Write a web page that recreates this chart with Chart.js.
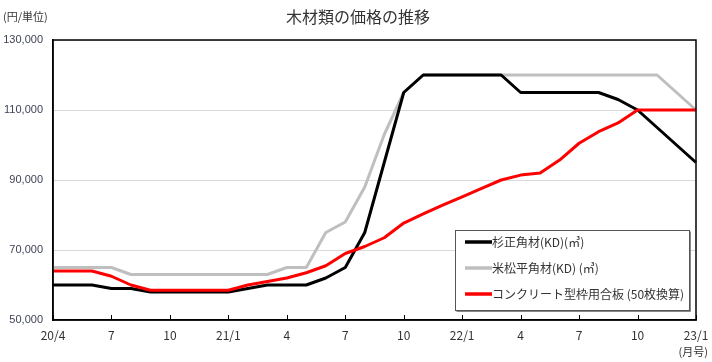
<!DOCTYPE html>
<html><head><meta charset="utf-8">
<script src="https://cdn.jsdelivr.net/npm/chart.js@4/dist/chart.umd.min.js"></script>
<style>html,body{margin:0;padding:0;background:#fff}#wrap{width:712px;height:362px}</style>
</head><body><div id="wrap"><canvas id="c" width="712" height="362"></canvas></div>
<script>
const categories = ["20/4","20/5","20/6","20/7","20/8","20/9","20/10","20/11","20/12","21/1","21/2","21/3","21/4","21/5","21/6","21/7","21/8","21/9","21/10","21/11","21/12","22/1","22/2","22/3","22/4","22/5","22/6","22/7","22/8","22/9","22/10","22/11","22/12","23/1"];
const tickLabels = ["20/4","7","10","21/1","4","7","10","22/1","4","7","10","23/1"];
const seriesNames = ["杉正角材(KD)(㎥)","米松平角材(KD) (㎥)","コンクリート型枠用合板 (50枚換算)"];
const sugi = [60000,60000,60000,59000,59000,58000,58000,58000,58000,58000,59000,60000,60000,60000,62000,65000,75000,95000,115000,120000,120000,120000,120000,120000,115000,115000,115000,115000,115000,113000,110000,105000,100000,95000];
const beimatsu = [65000,65000,65000,65000,63000,63000,63000,63000,63000,63000,63000,63000,65000,65000,75000,78000,88000,103000,115000,120000,120000,120000,120000,120000,120000,120000,120000,120000,120000,120000,120000,120000,115000,110000];
const goban = [64000,64000,64000,62500,60000,58500,58500,58500,58500,58500,60000,61000,62000,63500,65500,69000,71000,73500,77700,80300,82800,85200,87600,90000,91400,92000,95700,100500,103800,106300,110000,110000,110000,110000];
const yTicks = [50000,70000,90000,110000,130000];

const jp = '"Noto Sans CJK JP","Liberation Sans",sans-serif';

const decor = {
  id:'decor',
  afterDraw(chart){
    const ctx = chart.ctx, a = chart.chartArea;
    ctx.save();
    ctx.strokeStyle='#000'; ctx.lineWidth=1.5;
    ctx.strokeRect(a.left, a.top, a.right-a.left, a.bottom-a.top);
    const xs = chart.scales.x;
    ctx.lineWidth=1;
    for(let i=0;i<categories.length;i+=3){
      const px = Math.round(xs.getPixelForValue(i))+0.5;
      ctx.beginPath(); ctx.moveTo(px,a.bottom); ctx.lineTo(px,a.bottom-5); ctx.stroke();
    }
    ctx.fillStyle='#333';
    ctx.font='16px '+jp; ctx.textAlign='center'; ctx.textBaseline='middle';
    ctx.fillText('木材類の価格の推移', 358, 17);
    ctx.font='11px '+jp; ctx.textAlign='left';
    ctx.fillText('(円/単位)', 3, 17);
    ctx.textAlign='right';
    ctx.fillText('(月号)', 708, 352);
    const lx=455, ly=230, lw=234, lh=80;
    ctx.fillStyle='#fff'; ctx.fillRect(lx,ly,lw,lh);
    ctx.strokeStyle='#555'; ctx.lineWidth=1;
    ctx.strokeRect(lx+0.5,ly+0.5,lw,lh);
    ctx.strokeStyle='#888'; ctx.lineWidth=1;
    ctx.beginPath(); ctx.moveTo(lx+1.5,ly+lh+1.5); ctx.lineTo(lx+lw+1.5,ly+lh+1.5); ctx.lineTo(lx+lw+1.5,ly+1.5); ctx.stroke();
    const rows=[242,268,294];
    const cols=['#000','#bfbfbf','#ff0000'];
    ctx.font='12px '+jp; ctx.textAlign='left'; ctx.textBaseline='middle';
    for(let i=0;i<3;i++){
      ctx.strokeStyle=cols[i]; ctx.lineWidth=3.5;
      ctx.beginPath(); ctx.moveTo(465,rows[i]); ctx.lineTo(492,rows[i]); ctx.stroke();
      ctx.fillStyle='#333'; ctx.fillText(seriesNames[i], 492, rows[i]);
    }
    ctx.restore();
  }
};

new Chart(document.getElementById('c'), {
  type:'line',
  data:{
    labels:categories,
    datasets:[
      {label:seriesNames[0], data:sugi, borderColor:'#000', borderWidth:3, order:1},
      {label:seriesNames[1], data:beimatsu, borderColor:'#bfbfbf', borderWidth:3, order:2},
      {label:seriesNames[2], data:goban, borderColor:'#ff0000', borderWidth:3, order:0}
    ]
  },
  options:{
    responsive:false, animation:false,
    layout:{padding:{top:40,right:0,left:0,bottom:0}},
    elements:{point:{radius:0}, line:{tension:0, borderJoinStyle:'round'}},
    plugins:{legend:{display:false}, title:{display:false}, tooltip:{enabled:false}},
    scales:{
      x:{
        offset:false,
        grid:{display:false, drawTicks:false},
        border:{display:true, color:'#000', width:1.5},
        ticks:{autoSkip:false, maxRotation:0, padding:8, color:'#333', font:{family:jp, size:12},
          callback:(v,i)=> i%3===0 ? tickLabels[i/3] : ''},
        afterFit(s){ s.height = 42; s.paddingRight = 16; s.paddingLeft = 0; }
      },
      y:{
        min:50000, max:130000,
        afterBuildTicks(s){ s.ticks = yTicks.map(v=>({value:v})); },
        grid:{color:'#d9d9d9', lineWidth:1, drawTicks:false},
        border:{display:true, color:'#000', width:1.5},
        ticks:{padding:10, color:'#3e4257', font:{family:'"Liberation Sans",sans-serif', size:11},
          callback:v=>v.toLocaleString('en-US')},
        afterFit(s){ s.width = 53; }
      }
    }
  },
  plugins:[decor]
});
</script></body></html>
